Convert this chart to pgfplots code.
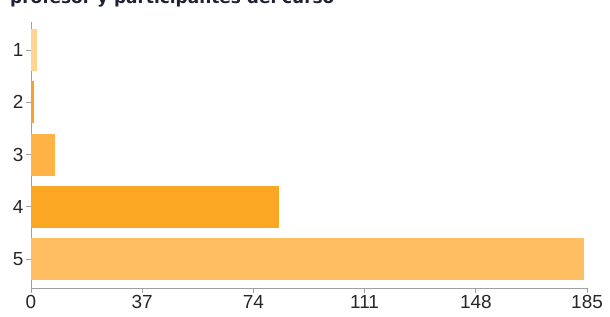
\documentclass[border=0pt]{standalone}
\usepackage{pgfplots}
\pgfplotsset{compat=1.18}
\usepackage{fontspec}
\setmainfont{Liberation Sans}
\newfontfamily\titlefont{DejaVu Sans}
\definecolor{cA}{HTML}{FFD591}
\definecolor{cB}{HTML}{F9A22A}
\definecolor{cC}{HTML}{FFB347}
\definecolor{cD}{HTML}{FBA724}
\definecolor{cE}{HTML}{FFBE62}
\definecolor{axgray}{HTML}{A0A0A0}
\definecolor{titlecol}{HTML}{1E2233}
\begin{document}
\begin{tikzpicture}[x=1bp,y=1bp]
\path[use as bounding box] (0,0) rectangle (610,316);
\begin{axis}[
  at={(31bp,28bp)}, anchor=south west,
  scale only axis, width=556bp, height=266bp,
  xbar, bar width=42bp, bar shift=0pt,
  xmin=0, xmax=185,
  ymin=0.464, ymax=5.555, y dir=reverse,
  xtick={0,37,74,111,148,185},
  ytick={1,2,3,4,5},
  axis x line*=bottom, axis y line*=left,
  axis line style={axgray, line width=0.8bp, -},
  tick style={axgray, line width=0.8bp},
  major tick length=5bp,
  xtick align=outside, ytick align=outside,
  tick label style={font=\fontsize{19}{21}\selectfont, text=black!85},
  /pgf/number format/assume math mode=true,
  xticklabel style={yshift=1bp},
  yticklabel style={xshift=1bp},
  clip=false,
]
\addplot[fill=cA, draw=none] coordinates {(2,1)};
\addplot[fill=cB, draw=none] coordinates {(1,2)};
\addplot[fill=cC, draw=none] coordinates {(8,3)};
\addplot[fill=cD, draw=none] coordinates {(82.5,4)};
\addplot[fill=cE, draw=none] coordinates {(184,5)};
\end{axis}
\node[overlay, anchor=base west, inner sep=0pt, font=\titlefont\bfseries\fontsize{17}{20}\selectfont, text=titlecol] at (10bp,312bp) {profesor y participantes del curso};
\end{tikzpicture}
\end{document}
